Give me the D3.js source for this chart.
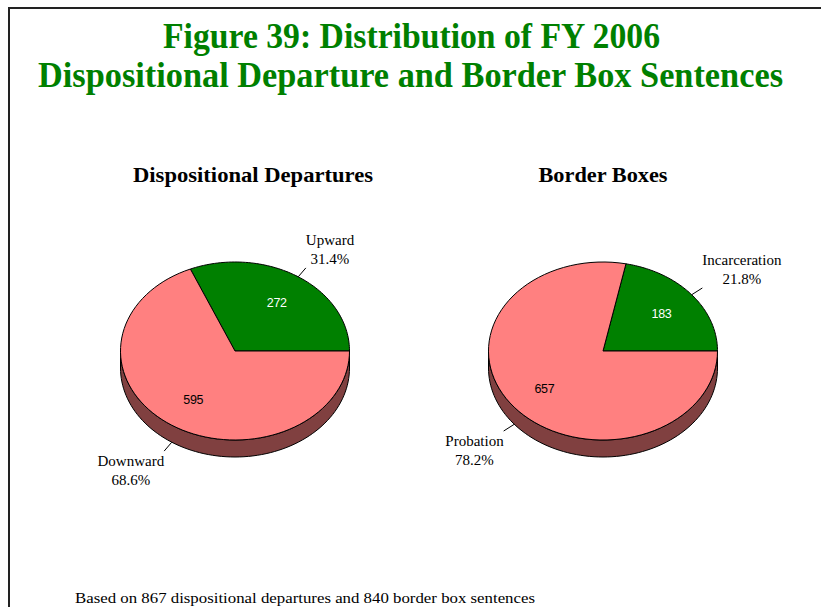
<!DOCTYPE html>
<html>
<head>
<meta charset="utf-8">
<script src="https://cdn.jsdelivr.net/npm/d3@7"></script>
<style>
  html, body { margin: 0; padding: 0; background: #fff; }
  svg { display: block; }
</style>
</head>
<body>
<div id="chart"></div>
<script>
// ---- data ----
const figureTitle = ["Figure 39: Distribution of FY 2006", "Dispositional Departure and Border Box Sentences"];
const pieTitles = ["Dispositional Departures", "Border Boxes"];
const departureCategories = ["Upward", "Downward"];
const departureValues = [272, 595];
const borderCategories = ["Incarceration", "Probation"];
const borderValues = [183, 657];
const sliceColors = ["#008000", "#FF8080"];
const sideColors = ["#004000", "#804040"];
const valueColors = ["#ffffff", "#000000"];

// ---- layout ----
const W = 821, H = 607;
const serif = "'Liberation Serif', 'Times New Roman', serif";
const sans = "'Liberation Sans', Arial, sans-serif";
const pieLayout = [
  { cx: 235, cy: 351, titleX: 253 },
  { cx: 603, cy: 351, titleX: 603 }
];
const rx = 114.5, ry = 89, depth = 17;

const svg = d3.select("#chart").append("svg")
  .attr("width", W).attr("height", H);

// frame
svg.append("path")
  .attr("d", `M${W},8 H9 V${H}`)
  .attr("fill", "none").attr("stroke", "#222").attr("stroke-width", 2);

// figure title
const titleLines = [
  { text: figureTitle[0], x: 411.5, y: 48, len: 497 },
  { text: figureTitle[1], x: 410.5, y: 87, len: 745 }
];
svg.selectAll("text.ftitle").data(titleLines).join("text")
  .attr("class", "ftitle")
  .attr("x", d => d.x).attr("y", d => d.y)
  .attr("text-anchor", "middle")
  .attr("font-family", serif).attr("font-weight", "bold")
  .attr("font-size", 35).attr("fill", "#008000")
  .attr("textLength", d => d.len).attr("lengthAdjust", "spacingAndGlyphs")
  .text(d => d.text);

const pct = d3.format(".1%");

// pie layout: start at 3 o'clock, run counter-clockwise
const pieGen = d3.pie().sort(null)
  .startAngle(Math.PI / 2)
  .endAngle(Math.PI / 2 - 2 * Math.PI);

function drawPie(idx, categories, values, titleWidth) {
  const L = pieLayout[idx];
  const g = svg.append("g");
  const total = d3.sum(values);
  const arcs = pieGen(values).map((a, i) => Object.assign(a, { name: categories[i], i }));

  // ellipse point for d3 angle a (0 = 12 o'clock, clockwise)
  const pt = (a, f = 1, dy = 0) => [L.cx + rx * f * Math.sin(a), L.cy - ry * f * Math.cos(a) + dy];
  const sample = (a0, a1, n = 80) => d3.range(n + 1).map(k => a0 + (a1 - a0) * k / n);
  const line = d3.line();

  // pie title
  g.append("text")
    .attr("x", L.titleX).attr("y", 182)
    .attr("text-anchor", "middle")
    .attr("font-family", serif).attr("font-weight", "bold")
    .attr("font-size", 21)
    .attr("textLength", titleWidth).attr("lengthAdjust", "spacingAndGlyphs")
    .text(pieTitles[idx]);

  // side walls (front half of the rim only)
  arcs.forEach(a => {
    const lo = Math.min(a.startAngle, a.endAngle), hi = Math.max(a.startAngle, a.endAngle);
    for (let k = -2; k <= 2; k++) {
      const fLo = Math.PI / 2 + 2 * Math.PI * k, fHi = 3 * Math.PI / 2 + 2 * Math.PI * k;
      const p = Math.max(lo, fLo), q = Math.min(hi, fHi);
      if (q - p > 1e-6) {
        const top = sample(p, q).map(t => pt(t));
        const bot = sample(q, p).map(t => pt(t, 1, depth));
        g.append("path")
          .attr("d", line(top.concat(bot)) + "Z")
          .attr("fill", sideColors[a.i])
          .attr("stroke", "#000").attr("stroke-width", 1)
          .attr("stroke-linejoin", "round");
      }
    }
  });

  // top faces
  arcs.forEach(a => {
    const pts = [[L.cx, L.cy]].concat(sample(a.startAngle, a.endAngle).map(t => pt(t)));
    g.append("path")
      .attr("d", line(pts) + "Z")
      .attr("fill", sliceColors[a.i])
      .attr("stroke", "#000").attr("stroke-width", 1)
      .attr("stroke-linejoin", "round");
  });

  // value labels
  arcs.forEach(a => {
    const mid = (a.startAngle + a.endAngle) / 2;
    const [x, y] = pt(mid, 0.66);
    g.append("text")
      .attr("x", x).attr("y", y + 4.5)
      .attr("text-anchor", "middle")
      .attr("font-family", sans).attr("font-size", 12.5)
      .attr("letter-spacing", -0.3)
      .attr("fill", valueColors[a.i])
      .text(a.value);
  });

  // category labels with leader lines
  arcs.forEach(a => {
    const mid = (a.startAngle + a.endAngle) / 2;
    const front = Math.cos(mid) < 0;
    const dy = front ? depth : 0;
    const s = pt(mid, 1, dy), e = pt(mid, 1.12, dy);
    g.append("path").attr("d", line([s, e]))
      .attr("stroke", "#000").attr("stroke-width", 1).attr("fill", "none");

    const right = Math.sin(mid) > 0;
    const lines = [a.name, pct(a.value / total)];
    const texts = lines.map(t => g.append("text")
      .attr("font-family", serif).attr("font-size", 15)
      .attr("text-anchor", "middle")
      .text(t));
    const bw = d3.max(texts, t => t.node().getComputedTextLength());
    const cxText = right ? e[0] + bw / 2 : e[0] - bw / 2;
    const base = front ? [e[1] + 15, e[1] + 34] : [e[1] - 23, e[1] - 4];
    texts.forEach((t, j) => t.attr("x", cxText).attr("y", base[j]));
  });

  return total;
}

const totalDepartures = drawPie(0, departureCategories, departureValues, 240);
const totalBorder = drawPie(1, borderCategories, borderValues, 129);

// footnote
svg.append("text")
  .attr("x", 75).attr("y", 603)
  .attr("font-family", serif).attr("font-size", 15)
  .attr("textLength", 460).attr("lengthAdjust", "spacingAndGlyphs")
  .text(`Based on ${totalDepartures} dispositional departures and ${totalBorder} border box sentences`);
</script>
</body>
</html>
